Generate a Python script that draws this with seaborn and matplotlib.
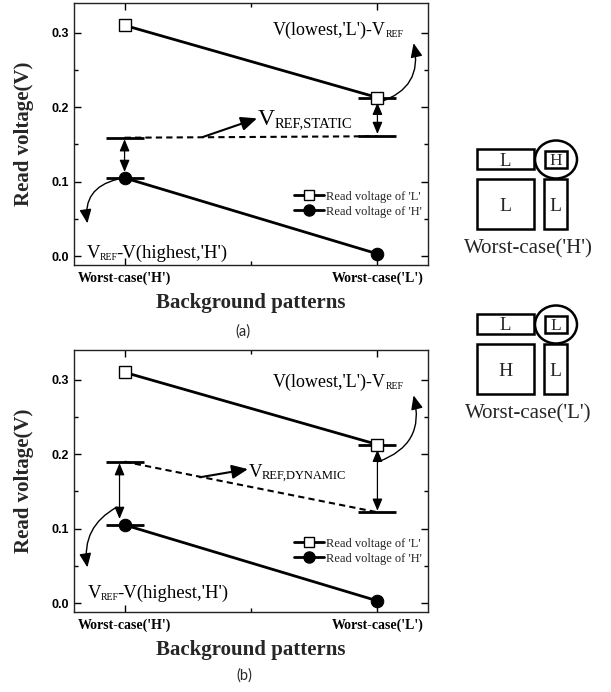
import numpy as np
import pandas as pd
import matplotlib
matplotlib.use('Agg')
import matplotlib.pyplot as plt
import seaborn as sns
from matplotlib.patches import Rectangle, Ellipse
from matplotlib.lines import Line2D

# ---------------- data ----------------
patterns = ["Worst-case('H')", "Worst-case('L')"]
v_L = [0.310, 0.213]          # read voltage of 'L'
v_H = [0.105, 0.003]          # read voltage of 'H'
vref_static = [0.159, 0.161]  # V_REF,STATIC
vref_dynamic = [0.190, 0.122] # V_REF,DYNAMIC
yticks = [0.0, 0.1, 0.2, 0.3]
ytick_labels = ['0.0', '0.1', '0.2', '0.3']
legend_labels = ["Read voltage of 'L'", "Read voltage of 'H'"]

SERIF = ['Liberation Serif', 'DejaVu Serif']
SANS = ['Liberation Sans', 'DejaVu Sans']

sns.set_theme(style='ticks')
plt.rcParams['font.family'] = SERIF

W, H = 611, 692
fig = plt.figure(figsize=(W / 100, H / 100), dpi=100)
fig.patch.set_facecolor('white')


def ax_rect(l, t, r, b):
    return [l / W, 1 - b / H, (r - l) / W, (b - t) / H]


def rich(ax, x, y, parts):
    t = ax.text(x, y, parts[0][0], fontsize=parts[0][1], va='baseline', ha='left',
                family=SERIF, color='black')
    prev = t
    for s, fs, dx in parts[1:]:
        prev = ax.annotate(s, xy=(1, 0), xycoords=prev, xytext=(dx, 0),
                           textcoords='offset points', fontsize=fs, va='bottom',
                           ha='left', family=SERIF, color='black')


def arrow(ax, xy, xytext, style='-|>', lw=1.0, rad=0.0, hl=0.6, hw=0.25, ms=12):
    ax.annotate('', xy=xy, xytext=xytext,
                arrowprops=dict(arrowstyle=f'{style},head_length={hl},head_width={hw}',
                                lw=lw, color='black', shrinkA=0, shrinkB=0,
                                mutation_scale=ms,
                                connectionstyle=f'arc3,rad={rad}'))


def panel(ax, vref, kind):
    df = pd.DataFrame({'x': [0, 1], 'L': v_L, 'H': v_H, 'ref': vref})
    sns.lineplot(data=df, x='x', y='ref', ax=ax, color='black', lw=1.5,
                 linestyle=(0, (3.0, 2.0)), zorder=2)
    sns.lineplot(data=df, x='x', y='L', ax=ax, color='black', lw=2.0, marker='s',
                 markersize=8, markerfacecolor='white', markeredgecolor='black',
                 markeredgewidth=1.0, zorder=4)
    sns.lineplot(data=df, x='x', y='H', ax=ax, color='black', lw=2.0, marker='o',
                 markersize=9, markerfacecolor='black', markeredgecolor='black',
                 zorder=4)
    # short level bars
    hw = 0.075
    ax.hlines([vref[0], v_H[0]], -hw, hw, colors='black', lw=2.0, zorder=3)
    ax.hlines([vref[1], v_L[1]], 1 - hw, 1 + hw, colors='black', lw=2.0, zorder=3)

    ax.set_xlim(-0.2, 1.2)
    ax.set_ylim(-0.012, 0.34)
    ax.set_xticks([0, 1])
    ax.set_xticklabels(patterns, fontsize=10, fontweight='bold', family=SERIF)
    ax.set_xticks([0.5], minor=True)
    ax.set_yticks(yticks)
    ax.set_yticklabels(ytick_labels, fontsize=9, fontweight='bold', family=SANS)
    ax.set_yticks([0.05, 0.15, 0.25], minor=True)
    ax.tick_params(which='both', direction='in', top=True, right=True, width=1.0,
                   color='black', labelcolor='black')
    ax.tick_params(which='major', length=5, pad=3.5)
    ax.tick_params(which='minor', length=3)
    ax.tick_params(axis='x', which='major', pad=5)
    for s in ax.spines.values():
        s.set_visible(True)
        s.set_color('#222222')
        s.set_linewidth(1.0)
    ax.set_facecolor('white')
    ax.set_xlabel('Background patterns', fontsize=15, fontweight='bold', family=SERIF)
    ax.set_ylabel('Read voltage(V)', fontsize=15, fontweight='bold', family=SERIF)
    ax.xaxis.set_label_coords(0.5, -0.105)
    ax.yaxis.set_label_coords(-0.113, 0.5)

    handles = [Line2D([], [], color='black', lw=2, marker='s', ms=7, mfc='white', mec='black'),
               Line2D([], [], color='black', lw=2, marker='o', ms=8, mfc='black', mec='black')]
    leg = ax.legend(handles, legend_labels, loc='center right', bbox_to_anchor=(0.99, 0.232),
                    frameon=False, fontsize=9, handlelength=2.4, handletextpad=0.2,
                    labelspacing=0.25, borderpad=0.2, borderaxespad=0)
    for t in leg.get_texts():
        t.set_family(SERIF)

    # annotations
    if kind == 'static':
        rich(ax, 0.587, 0.297, [("V(lowest,'L')-V", 13), ("REF", 7, 0)])
        arrow(ax, (1.143, 0.286), (1.01, 0.207), rad=0.45, hl=0.7, hw=0.3, ms=12)
        rich(ax, -0.151, -0.003, [("V", 13.5), ("REF", 7, 0), ("-V(highest,'H')", 13.5, -1.2)])
        arrow(ax, (-0.147, 0.044), (-0.03, 0.103), rad=0.45, hl=0.7, hw=0.3, ms=12)
        arrow(ax, (0.524, 0.185), (0.31, 0.160), lw=1.5, hl=0.8, hw=0.35, ms=12)
        rich(ax, 0.527, 0.176, [("V", 17), ("REF,STATIC", 10.5, 0)])
        arrow(ax, (0, vref[0] - 0.002), (0, v_H[0] + 0.008), style='<|-|>', lw=0.9,
              hl=0.6, hw=0.25, ms=12)
        arrow(ax, (1.0, v_L[1] - 0.007), (1.0, vref[1] + 0.003), style='<|-|>', lw=0.9,
              hl=0.6, hw=0.25, ms=12)
    else:
        rich(ax, 0.587, 0.290, [("V(lowest,'L')-V", 13), ("REF", 7, 0)])
        arrow(ax, (1.143, 0.279), (1.004, 0.190), rad=0.45, hl=0.7, hw=0.3, ms=12)
        rich(ax, -0.147, 0.007, [("V", 13.5), ("REF", 7, 0), ("-V(highest,'H')", 13.5, -1.2)])
        arrow(ax, (-0.147, 0.048), (-0.03, 0.129), rad=0.35, hl=0.7, hw=0.3, ms=12)
        arrow(ax, (0.488, 0.180), (0.298, 0.169), lw=1.5, hl=0.8, hw=0.35, ms=12)
        rich(ax, 0.49, 0.169, [("V", 13.5), ("REF,DYNAMIC", 9, 0)])
        arrow(ax, (-0.02, vref[0] - 0.002), (-0.02, v_H[0] + 0.008), style='<|-|>', lw=0.9,
              hl=0.6, hw=0.25, ms=12)
        arrow(ax, (1.0, v_L[1] - 0.007), (1.0, vref[1] + 0.002), style='<|-|>', lw=0.9,
              hl=0.6, hw=0.25, ms=12)


axA = fig.add_axes(ax_rect(74, 3, 428, 265))
axB = fig.add_axes(ax_rect(74, 350, 428, 612))
panel(axA, vref_static, 'static')
panel(axB, vref_dynamic, 'dynamic')

fig.text(243 / W, 1 - 332 / H, '(a)', fontsize=10.5, family=['Lato', 'DejaVu Sans'],
         ha='center', va='center')
fig.text(244 / W, 1 - 676 / H, '(b)', fontsize=10.5, family=['Lato', 'DejaVu Sans'],
         ha='center', va='center')

# ---------------- cell diagrams ----------------
ov = fig.add_axes([0, 0, 1, 1], facecolor='none')
ov.set_xlim(0, W)
ov.set_ylim(H, 0)
ov.axis('off')


def diagram(y0, top_left, circled, big, narrow, caption):
    lw = 1.8
    ov.add_patch(Rectangle((477, y0), 57, 20, fill=False, lw=lw, ec='black'))
    ov.text(505.5, y0 + 16.5, top_left, fontsize=13.5, ha='center', va='baseline', family=SERIF)
    ov.add_patch(Rectangle((545, y0 + 1.5), 22, 17.5, fill=False, lw=lw, ec='black'))
    ov.text(556, y0 + 16, circled, fontsize=12.5, ha='center', va='baseline', family=SERIF)
    ov.add_patch(Ellipse((556, y0 + 10.5), 42, 38, fill=False, lw=lw, ec='black'))
    ov.add_patch(Rectangle((477, y0 + 30), 57, 50, fill=False, lw=lw, ec='black'))
    ov.text(505.5, y0 + 62, big, fontsize=14, ha='center', va='baseline', family=SERIF)
    ov.add_patch(Rectangle((544, y0 + 30), 23, 50, fill=False, lw=lw, ec='black'))
    ov.text(555.5, y0 + 62, narrow, fontsize=14, ha='center', va='baseline', family=SERIF)
    ov.text(528, y0 + 104, caption, fontsize=15, ha='center', va='baseline', family=SERIF)


diagram(149, 'L', 'H', 'L', 'L', "Worst-case('H')")
diagram(314, 'L', 'L', 'H', 'L', "Worst-case('L')")

fig.savefig('out.png', dpi=100, facecolor='white')
